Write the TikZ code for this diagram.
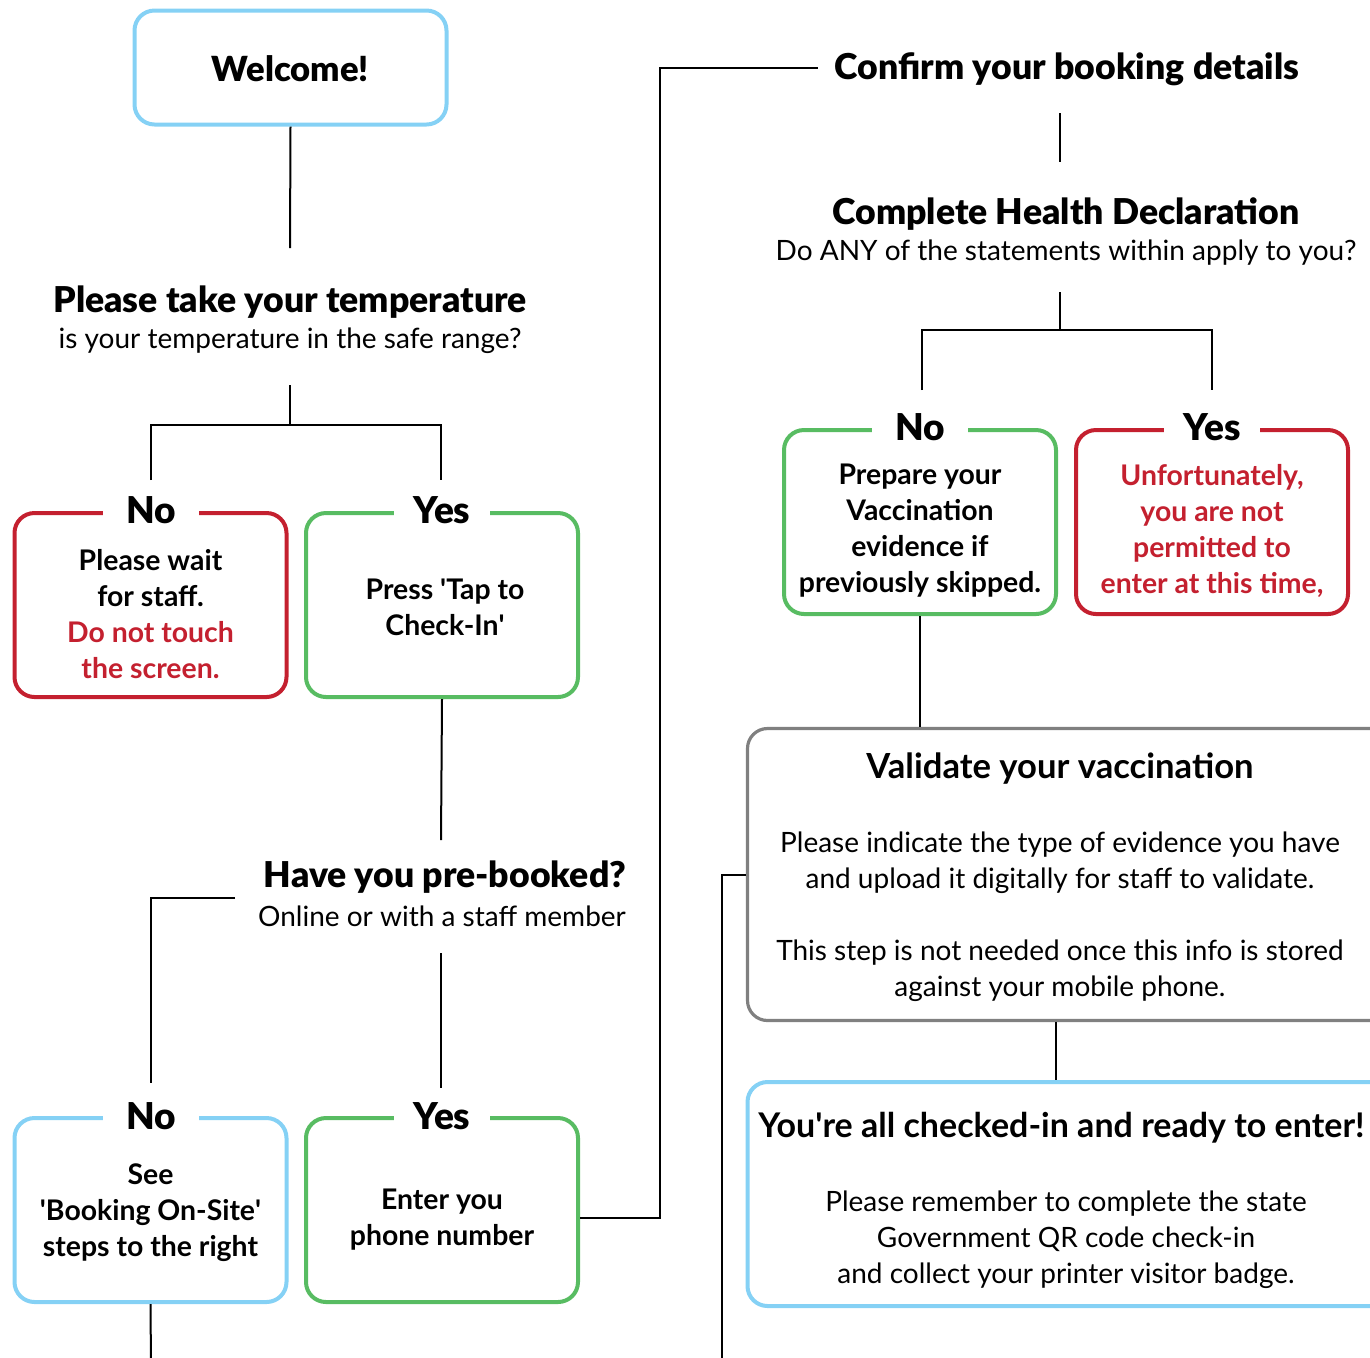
\documentclass[tikz,border=0pt]{standalone}
\usepackage{fontspec}
\setmainfont{Lato}
\IfFontExistsTF{Lato Black}{\newfontfamily\lblack{Lato Black}}{\newcommand\lblack{\bfseries}}
\definecolor{cblue}{RGB}{133,209,245}
\definecolor{cgreen}{RGB}{88,188,98}
\definecolor{cred}{RGB}{196,32,47}
\definecolor{cgray}{RGB}{128,128,128}
\newcommand\fhd{\fontsize{17.8}{21}\selectfont\lblack}
\newcommand\flb{\fontsize{18.5}{21}\selectfont\lblack}
\newcommand\fsb{\fontsize{14}{18}\selectfont}
\newcommand\fbx{\fontsize{14.2}{18}\selectfont\bfseries}
\newcommand\ftl{\fontsize{17.3}{21}\selectfont\bfseries}
\newcommand\q{\textquotesingle}
\begin{document}
\begin{tikzpicture}[x=0.5pt,y=-0.5pt,
  conn/.style={draw=black,line width=1pt},
  cbox/.style={draw=#1,line width=2pt,rounded corners=10pt,fill=white,inner sep=0pt,minimum width=136pt,minimum height=92pt},
  wbox/.style={draw=#1,line width=1.6pt,rounded corners=10pt,fill=white,inner sep=0pt,minimum width=326pt},
  lab/.style={fill=white,inner sep=0pt,minimum width=48pt,minimum height=16pt,font=\flb},
  btxt/.style={align=center,font=\fbx,inner sep=0pt},
  head/.style={font=\fhd,inner sep=0pt},
  sub/.style={font=\fsb,inner sep=0pt,align=center}]
\useasboundingbox (0,0) rectangle (1370,1357);
\clip (0,0) rectangle (1370,1357);

% ---- Welcome
\node[cbox=cblue,minimum width=156pt,minimum height=57pt] (welcome) at (290.5,67.5) {};
\node[head,font=\fontsize{17.3}{21}\selectfont\lblack] (welcomet) at (290.5,69) {Welcome!};
\coordinate (c1) at (290,248);
\draw[conn] (welcome.south) -- (c1);

% ---- Temperature
\node[head] (temph) at (290,302) {Please take your temperature};
\node[sub] (temps) at (290,341) {is your temperature in the safe range?};
\coordinate (c2) at (290,385);
\coordinate (c3) at (290,425);
\coordinate (c4) at (151,480);
\coordinate (c5) at (441,480);
\draw[conn] (c2) -- (c3);
\draw[conn] (c4) |- (c3) -| (c5);

\node[cbox=cred] (no1) at (150.5,605) {};
\node[lab] (no1l) at (151,510) {No};
\node[btxt] (no1t) at (150.5,614) {Please wait\\for staff.\\\color{cred}Do not touch\\\color{cred}the screen.};

\node[cbox=cgreen] (yes1) at (442,605) {};
\node[lab] (yes1l) at (442,510) {Yes};
\node[btxt] (yes1t) at (445,607) {Press \q Tap to\\Check-In\q};

\coordinate (c6) at (441,840);
\draw[conn] (yes1.south) -- (c6);

% ---- Pre-booked
\node[head] (preh) at (445,877) {Have you pre-booked?};
\node[sub] (pres) at (442,916) {Online or with a staff member};
\coordinate (c7) at (235,898);
\coordinate (c8) at (151,1083);
\draw[conn] (c7) -| (c8);
\coordinate (c9) at (441,953);
\coordinate (c10) at (441,1088);
\draw[conn] (c9) -- (c10);

\node[cbox=cblue] (no2) at (150.5,1210) {};
\node[lab] (no2l) at (151,1116) {No};
\node[btxt] (no2t) at (150.5,1213) {See\\\q Booking On-Site\q\\steps to the right};

\node[cbox=cgreen] (yes2) at (442,1210) {};
\node[lab] (yes2l) at (442,1116) {Yes};
\node[btxt] (yes2t) at (442,1220) {Enter you\\phone number};

\coordinate (c11) at (151,1365);
\draw[conn] (no2.south) -- (c11);

\coordinate (c12) at (660,1218);
\coordinate (c13) at (818,68);
\draw[conn] (yes2.east |- c12) -- (c12) |- (c13);

% ---- Confirm booking
\node[head] (confh) at (1067,69) {Confirm your booking details};
\coordinate (c14) at (1060,113);
\coordinate (c15) at (1060,162);
\draw[conn] (c14) -- (c15);

% ---- Health declaration
\node[head] (healh) at (1066,214) {Complete Health Declaration};
\node[sub] (heals) at (1066,253) {Do ANY of the statements within apply to you?};
\coordinate (c16) at (1060,292);
\coordinate (c17) at (1060,330);
\coordinate (c18) at (922,390);
\coordinate (c19) at (1212,390);
\draw[conn] (c16) -- (c17);
\draw[conn] (c18) |- (c17) -| (c19);

\node[cbox=cgreen] (no3) at (920,522) {};
\node[lab] (no3l) at (920,427) {No};
\node[btxt] (no3t) at (920,531) {Prepare your\\Vaccination\\evidence if\\previously skipped.};

\node[cbox=cred] (yes3) at (1212,522) {};
\node[lab] (yes3l) at (1212,427) {Yes};
\node[btxt,text=cred] (yes3t) at (1212,531) {Unfortunately,\\you are not\\permitted to\\enter at this time,};

% ---- Validate
\node[wbox=cgray,minimum height=146pt] (valid) at (1073.5,874.5) {};
\draw[conn] (no3.south) -- (no3.south |- valid.north);
\node[font=\ftl,inner sep=0pt] (validh) at (1060,769) {Validate your vaccination};
\node[sub] (validp1) at (1060,863) {Please indicate the type of evidence you have\\and upload it digitally for staff to validate.};
\node[sub] (validp2) at (1060,971) {This step is not needed once this info is stored\\against your mobile phone.};

\coordinate (c20) at (722,1365);
\draw[conn] (c20) |- (valid.west);

% ---- Final
\node[wbox=cblue,line width=2pt,minimum height=112pt] (final) at (1073.5,1194) {};
\coordinate (c21) at (1056,1050);
\draw[conn] (c21 |- valid.south) -- (c21 |- final.north);
\node[font=\fontsize{17}{21}\selectfont\bfseries,inner sep=0pt,anchor=west] (finalh) at (758,1128) {You\q re all checked-in and ready to enter!};
\node[sub] (finalp) at (1066,1240) {Please remember to complete the state\\Government QR code check-in\\and collect your printer visitor badge.};
\end{tikzpicture}
\end{document}
